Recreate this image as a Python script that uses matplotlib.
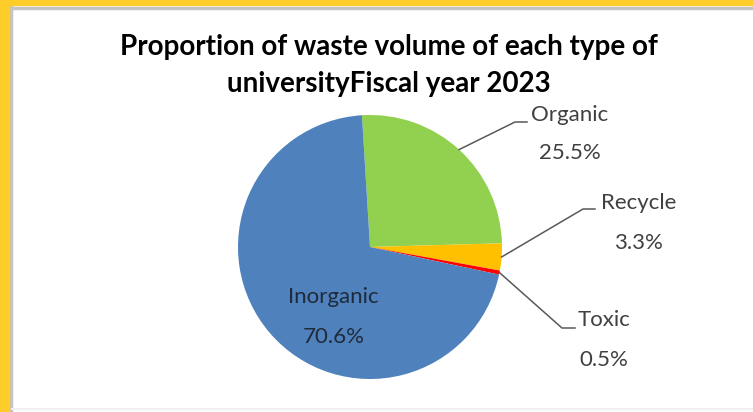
import numpy as np
import matplotlib
matplotlib.use("Agg")
import matplotlib.pyplot as plt
from matplotlib.patches import Rectangle

# waste share by type, fiscal year 2023 (percent)
categories = ["Organic", "Recycle", "Toxic", "Inorganic"]
shares = [25.5, 3.3, 0.5, 70.6]
share_labels = ["25.5%", "3.3%", "0.5%", "70.6%"]
colors = ["#92D050", "#FFC000", "#FF0000", "#4F81BD"]
title_lines = ["Proportion of waste volume of each type of", "universityFiscal year 2023"]

W, H = 753, 412
fig = plt.figure(figsize=(W / 100, H / 100), dpi=100)
ax = fig.add_axes([0, 0, 1, 1])

# pixel-like coordinates, y going up
cx, cy, r = 370, 165, 132
start = 93.5
wedges, _ = ax.pie(shares, colors=colors, startangle=start, counterclock=False,
                   center=(cx, cy), radius=r, wedgeprops=dict(linewidth=0))
ax.set_xlim(0, W)
ax.set_ylim(0, H)
ax.set_aspect("auto")
ax.set_axis_off()

# frame: yellow band on top and left, with a soft grey edge
yellow = "#FFCD2A"
ax.add_patch(Rectangle((0, H - 5), W, 5, color=yellow, zorder=5))
ax.add_patch(Rectangle((0, 0), 9, H, color=yellow, zorder=5))
ax.plot([9, W], [H - 7.5, H - 7.5], color="#C4C4C4", lw=2.5, zorder=4)
ax.plot([11.5, 11.5], [0, H - 6], color="#C4C4C4", lw=2.5, zorder=4)
ax.plot([12, W], [3, 3], color="#F0F0F0", lw=1.5, zorder=4)

for line, y in zip(title_lines, [365, 328]):
    ax.text(389, y, line, ha="center", va="center", fontsize=20,
            fontweight="bold", family="Lato", color="#000000")

lab_font = dict(family="Lato", fontsize=16, color="#404040", ha="center", va="center")

# outside labels with elbow leader lines: (elbow, end of line, name pos, pct pos)
outside = {
    "Organic": ((515, 290), (527, 290), (570, 297), (570, 259)),
    "Recycle": ((583, 203), (595, 203), (639, 209), (638, 169)),
    "Toxic": ((562, 84), (575, 84), (604, 92), (604, 52)),
}
for i, name in enumerate(categories):
    w = wedges[i]
    mid = np.deg2rad((w.theta1 + w.theta2) / 2)
    if name in outside:
        elbow, end, npos, ppos = outside[name]
        x0, y0 = cx + r * np.cos(mid), cy + r * np.sin(mid)
        ax.plot([x0, elbow[0], end[0]], [y0, elbow[1], end[1]], color="#595959", lw=1.1, zorder=3)
        ax.text(*npos, name, **lab_font)
        ax.text(*ppos, share_labels[i], **lab_font)
    else:
        inner = dict(lab_font, color="#1F2A3A")
        ax.text(333, 115, name, **inner)
        ax.text(334, 75, share_labels[i], **inner)

fig.savefig("out.png", dpi=100)
